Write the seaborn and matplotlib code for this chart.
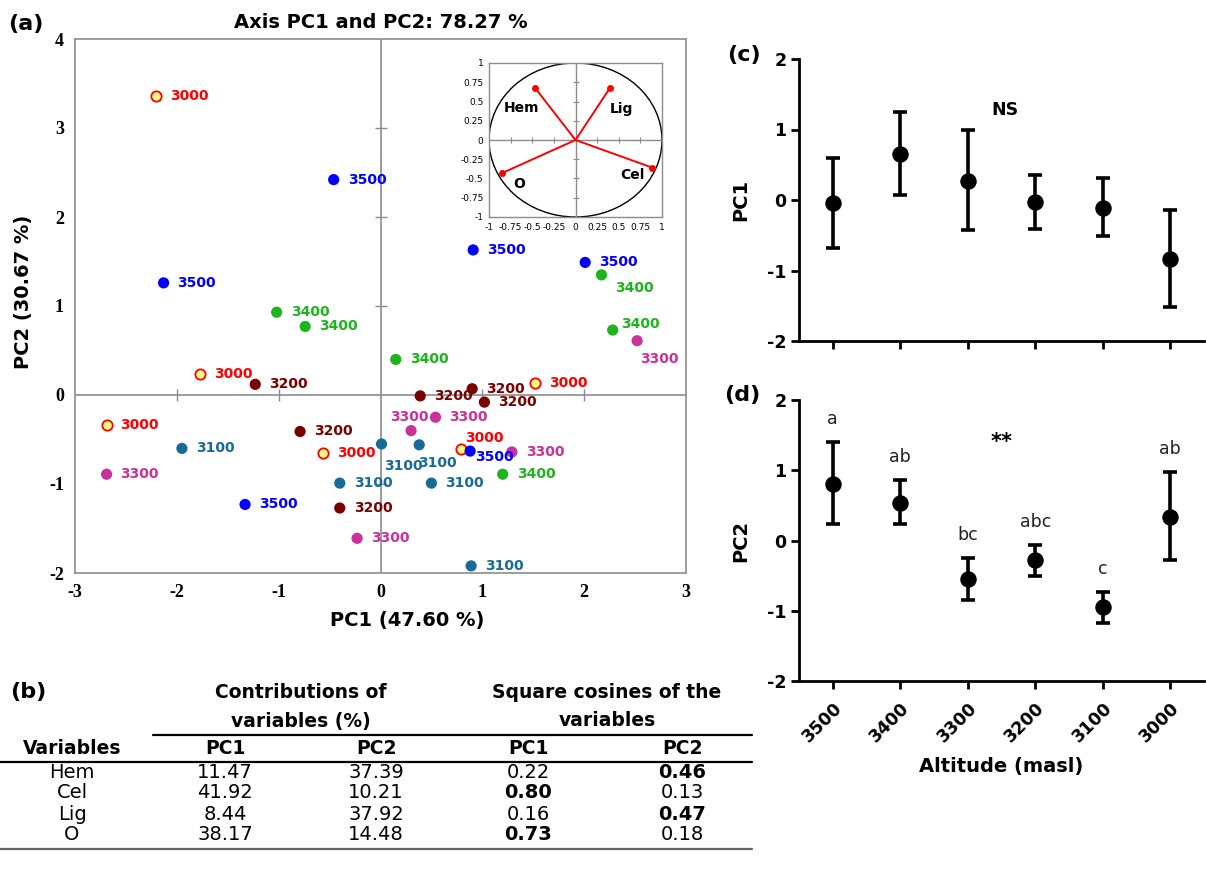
import numpy as np
import pandas as pd
import matplotlib
matplotlib.use("Agg")
import matplotlib.pyplot as plt
from matplotlib.patches import Circle
import seaborn as sns

# PCA scores (panel a), six samples per altitude
pc1_3000 = [-2.20, -1.77, -2.69, -0.56, 0.79, 1.52]
pc2_3000 = [3.36, 0.24, -0.34, -0.65, -0.61, 0.14]
pc1_3100 = [-1.95, 0.01, 0.38, -0.40, 0.50, 0.89]
pc2_3100 = [-0.60, -0.55, -0.56, -0.99, -0.99, -1.92]
pc1_3200 = [-1.23, -0.79, -0.40, 0.39, 0.90, 1.02]
pc2_3200 = [0.12, -0.41, -1.27, -0.01, 0.07, -0.08]
pc1_3300 = [-2.69, -0.23, 0.30, 0.54, 1.29, 2.52]
pc2_3300 = [-0.89, -1.61, -0.40, -0.25, -0.64, 0.61]
pc1_3400 = [-1.02, -0.74, 0.15, 1.20, 2.17, 2.28]
pc2_3400 = [0.93, 0.77, 0.40, -0.89, 1.35, 0.73]
pc1_3500 = [-0.46, -2.13, -1.33, 0.91, 2.01, 0.88]
pc2_3500 = [2.42, 1.26, -1.23, 1.63, 1.49, -0.63]

# correlation circle (inset)
loading_vars = ["Hem", "Lig", "Cel", "O"]
loading_pc1 = [-0.47, 0.40, 0.89, -0.85]
loading_pc2 = [0.68, 0.68, -0.36, -0.43]

# table (panel b)
variables = ["Hem", "Cel", "Lig", "O"]
contrib_pc1 = [11.47, 41.92, 8.44, 38.17]
contrib_pc2 = [37.39, 10.21, 37.92, 14.48]
cos2_pc1 = [0.22, 0.80, 0.16, 0.73]
cos2_pc2 = [0.46, 0.13, 0.47, 0.18]

# means and error bars per altitude (panels c, d)
altitudes = ["3500", "3400", "3300", "3200", "3100", "3000"]
pc1_mean = [-0.04, 0.65, 0.27, -0.03, -0.11, -0.83]
pc1_low = [-0.68, 0.07, -0.43, -0.41, -0.51, -1.52]
pc1_high = [0.60, 1.25, 0.99, 0.35, 0.31, -0.14]
pc2_mean = [0.81, 0.54, -0.55, -0.28, -0.95, 0.34]
pc2_low = [0.24, 0.24, -0.85, -0.50, -1.17, -0.28]
pc2_high = [1.40, 0.86, -0.25, -0.07, -0.73, 0.97]
pc2_letters = ["a", "ab", "bc", "abc", "c", "ab"]

scores = pd.DataFrame({
    "alt": ["3000"] * 6 + ["3100"] * 6 + ["3200"] * 6 + ["3300"] * 6 + ["3400"] * 6 + ["3500"] * 6,
    "pc1": pc1_3000 + pc1_3100 + pc1_3200 + pc1_3300 + pc1_3400 + pc1_3500,
    "pc2": pc2_3000 + pc2_3100 + pc2_3200 + pc2_3300 + pc2_3400 + pc2_3500,
    "idx": list(range(6)) * 6,
})

colors = {"3000": "#FF0000", "3100": "#186A99", "3200": "#7A0000",
          "3300": "#C8329A", "3400": "#1DB41D", "3500": "#0000FF"}

# label offsets (pixels) for the few labels not sitting right of their dot
label_offsets = {("3400", 4): (14, -13), ("3400", 5): (8, 6), ("3300", 5): (3, -18),
                 ("3300", 2): (-21, 14), ("3100", 1): (3, -22), ("3100", 2): (-1, -18),
                 ("3000", 4): (4, 11), ("3500", 5): (5, -6)}

sns.set_theme(style="white")
plt.rcParams["font.family"] = ["DejaVu Sans"]
plt.rcParams["axes.unicode_minus"] = False
for key in ["text.color", "axes.labelcolor", "xtick.color", "ytick.color"]:
    plt.rcParams[key] = "black"

fig = plt.figure(figsize=(12.06, 8.76), dpi=100)
W, H = 1206, 876


def px_axes(x0, y0, x1, y1):
    return fig.add_axes([x0 / W, 1 - y1 / H, (x1 - x0) / W, (y1 - y0) / H])


# ---------------- panel (a) ----------------
ax_a = px_axes(75, 39, 686, 573)
grey = "#8C8C8C"
ax_a.axhline(0, color=grey, lw=1.2, zorder=1)
ax_a.axvline(0, color=grey, lw=1.2, zorder=1)
ticks_a_x = [-2, -1, 1, 2]
ticks_a_y = [-1, 1, 2, 3]
ax_a.plot(ticks_a_x, [0] * len(ticks_a_x), ls="none", marker="|", ms=9, mew=1, color=grey)
ax_a.plot([0] * len(ticks_a_y), ticks_a_y, ls="none", marker="_", ms=9, mew=1, color=grey)

first = scores[scores["alt"] == "3000"]
rest = scores[scores["alt"] != "3000"]
sns.scatterplot(data=first, x="pc1", y="pc2", color="#FFFF88", edgecolor="#FF0000",
                linewidth=1.3, s=55, ax=ax_a, zorder=3, legend=False)
sns.scatterplot(data=rest, x="pc1", y="pc2", hue="alt", palette=colors, s=65,
                edgecolor="none", ax=ax_a, zorder=4, legend=False)
for _, r in scores.iterrows():
    off = label_offsets.get((r["alt"], r["idx"]), (14, 0))
    ax_a.annotate(r["alt"], (r["pc1"], r["pc2"]), xytext=off, textcoords="offset pixels",
                  color=colors[r["alt"]], fontsize=10, fontweight="bold",
                  ha="left", va="center", zorder=5)

ax_a.set_xlim(-3, 3)
ax_a.set_ylim(-2, 4)
ax_a.set_xticks(range(-3, 4))
ax_a.set_yticks(range(-2, 5))
ax_a.tick_params(length=0, pad=8)
for lab in ax_a.get_xticklabels() + ax_a.get_yticklabels():
    lab.set_family("Liberation Serif")
    lab.set_fontweight("bold")
    lab.set_fontsize(13)
for sp in ax_a.spines.values():
    sp.set_color(grey)
    sp.set_linewidth(1.2)
ax_a.set_xlabel("PC1 (47.60 %)", fontsize=14, fontweight="bold")
ax_a.set_ylabel("PC2 (30.67 %)", fontsize=14, fontweight="bold")
ax_a.xaxis.set_label_coords(0.543, -0.072)
ax_a.yaxis.set_label_coords(-0.069, 0.526)
ax_a.set_title("Axis PC1 and PC2: 78.27 %", fontsize=14, fontweight="bold", pad=8)

# inset correlation circle
ax_i = px_axes(489, 63, 662, 217)
ax_i.add_patch(Circle((0, 0), 1, fill=False, ec="black", lw=1))
ax_i.axhline(0, color=grey, lw=1)
ax_i.axvline(0, color=grey, lw=1)
small = [-0.75, -0.5, -0.25, 0.25, 0.5, 0.75]
ax_i.plot(small, [0] * 6, ls="none", marker="|", ms=5, mew=0.8, color=grey)
ax_i.plot([0] * 6, small, ls="none", marker="_", ms=5, mew=0.8, color=grey)
for name, lx, ly in zip(loading_vars, loading_pc1, loading_pc2):
    ax_i.plot([0, lx], [0, ly], color="red", lw=1.4)
ax_i.plot(loading_pc1, loading_pc2, ls="none", marker="o", ms=4, color="red")
label_pos = {"Hem": (-0.62, 0.42), "Lig": (0.53, 0.40), "Cel": (0.66, -0.46), "O": (-0.65, -0.57)}
for name in loading_vars:
    ax_i.text(*label_pos[name], name, fontsize=10, fontweight="bold", ha="center", va="center")
ax_i.set_xlim(-1, 1)
ax_i.set_ylim(-1, 1)
iticks = np.arange(-1, 1.01, 0.25)
ax_i.set_xticks(iticks)
ax_i.set_yticks(iticks)
ax_i.set_xticklabels([f"{v:g}" for v in iticks], fontsize=6.5)
ax_i.set_yticklabels([f"{v:g}" for v in iticks], fontsize=6.5)
ax_i.tick_params(length=0, pad=4)
for sp in ax_i.spines.values():
    sp.set_color(grey)
    sp.set_linewidth(1)

# ---------------- panel (b) table ----------------
ax_b = px_axes(0, 660, 760, 876)
ax_b.set_xlim(0, 760)
ax_b.set_ylim(876, 660)
ax_b.axis("off")
col_x = [72, 225, 376, 528, 682]
ax_b.text(301, 693, "Contributions of", ha="center", va="center", fontsize=13.5, fontweight="bold")
ax_b.text(301, 721, "variables (%)", ha="center", va="center", fontsize=13.5, fontweight="bold")
ax_b.text(607, 693, "Square cosines of the", ha="center", va="center", fontsize=13.5, fontweight="bold")
ax_b.text(607, 721, "variables", ha="center", va="center", fontsize=13.5, fontweight="bold")
for x, h in zip(col_x, ["Variables", "PC1", "PC2", "PC1", "PC2"]):
    ax_b.text(x, 749, h, ha="center", va="center", fontsize=13.5, fontweight="bold")
ax_b.plot([153, 752], [735, 735], color="black", lw=1.6)
ax_b.plot([0, 752], [762, 762], color="black", lw=1.6)
ax_b.plot([0, 752], [849, 849], color="#666666", lw=1.6)
row_y = [772, 793, 814, 835]
for i, y in enumerate(row_y):
    b1 = "bold" if cos2_pc1[i] > cos2_pc2[i] else "normal"
    b2 = "bold" if cos2_pc2[i] > cos2_pc1[i] else "normal"
    cells = [(variables[i], "normal"), (f"{contrib_pc1[i]:.2f}", "normal"),
             (f"{contrib_pc2[i]:.2f}", "normal"), (f"{cos2_pc1[i]:.2f}", b1),
             (f"{cos2_pc2[i]:.2f}", b2)]
    for x, (txt, wt) in zip(col_x, cells):
        ax_b.text(x, y, txt, ha="center", va="center", fontsize=14, fontweight=wt)

# ---------------- panels (c) and (d) ----------------
ax_c = px_axes(799, 59, 1204, 341)
ax_d = px_axes(799, 400, 1204, 681)
for ax, mean, low, high, ylab in [(ax_c, pc1_mean, pc1_low, pc1_high, "PC1"),
                                  (ax_d, pc2_mean, pc2_low, pc2_high, "PC2")]:
    d = pd.DataFrame({"altitude": altitudes, "mean": mean, "low": low, "high": high})
    ax.errorbar(d["altitude"], d["mean"], yerr=[d["mean"] - d["low"], d["high"] - d["mean"]],
                fmt="none", ecolor="black", elinewidth=2.6, capsize=5, capthick=2.6, zorder=2)
    sns.scatterplot(data=d, x="altitude", y="mean", color="black", s=120,
                    edgecolor="black", ax=ax, zorder=3, legend=False)
    ax.set_xlim(-0.5, 5.5)
    ax.set_ylim(-2, 2)
    ax.set_yticks([-2, -1, 0, 1, 2])
    sns.despine(ax=ax)
    for sp in ["left", "bottom"]:
        ax.spines[sp].set_linewidth(2)
        ax.spines[sp].set_color("black")
    ax.tick_params(left=True, bottom=True, direction="out", length=6, width=2,
                   labelsize=12.5, pad=3)
    for lab in ax.get_yticklabels():
        lab.set_fontweight("bold")
    ax.set_ylabel(ylab, fontsize=14, fontweight="bold", labelpad=12)
    ax.set_xlabel("")

ax_c.set_xticklabels([])
ax_c.text(2.55, 1.27, "NS", ha="center", va="center", fontsize=12.5, fontweight="bold")

ax_d.set_xticks(range(len(altitudes)))
ax_d.set_xticklabels(altitudes, rotation=45, ha="right", va="top", rotation_mode="anchor",
                     fontsize=12.5, fontweight="bold")
ax_d.tick_params(axis="x", pad=7)
ax_d.set_xlabel("Altitude (masl)", fontsize=14, fontweight="bold", labelpad=8)
for x, h, letter in zip(altitudes, pc2_high, pc2_letters):
    ax_d.annotate(letter, (x, h), xytext=(0, 14), textcoords="offset pixels",
                  ha="center", va="bottom", fontsize=12.5, color="#222222")
ax_d.text(2.5, 1.40, "**", ha="center", va="center", fontsize=15, fontweight="bold")

# panel letters
for txt, x, y in [("(a)", 26, 24), ("(b)", 28, 692), ("(c)", 744, 55), ("(d)", 742, 395)]:
    fig.text(x / W, 1 - y / H, txt, ha="center", va="center", fontsize=16, fontweight="bold")

fig.savefig("out.png", dpi=100)
